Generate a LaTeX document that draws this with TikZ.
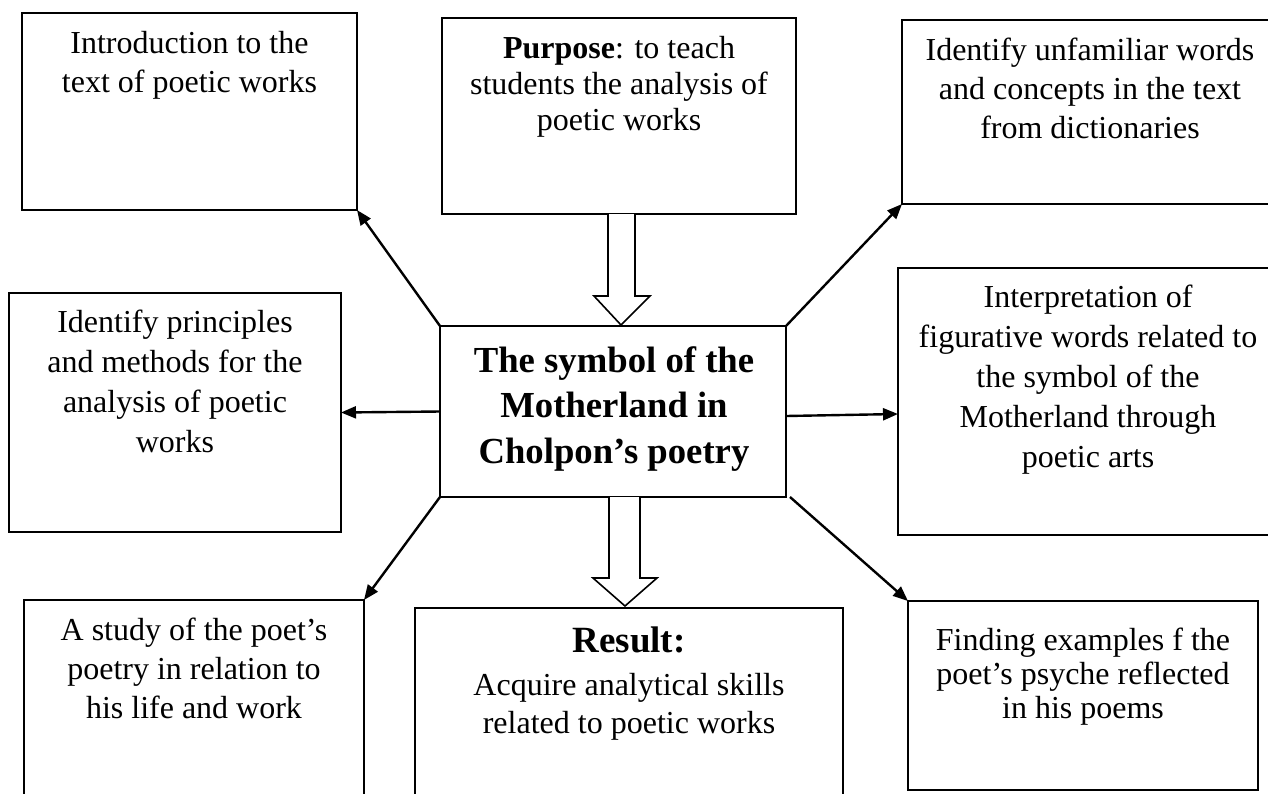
\documentclass[tikz,border=0pt]{standalone}
\usepackage{fontspec}
\setmainfont{Liberation Serif}
\usetikzlibrary{arrows.meta,calc}
\tikzset{
  box/.style={draw, line width=1.6pt, anchor=north west, inner sep=0pt, outer sep=0pt},
  txt/.style={anchor=base, align=center, inner sep=0pt, font=\fontsize{32}{#1}\selectfont},
  txt/.default=38.5,
  ttl/.style={anchor=base, align=center, inner sep=0pt, font=\fontsize{36.7}{45.5}\selectfont\bfseries},
  conn/.style={line width=2.4pt, -{Triangle[length=15pt,width=12pt]}},
  hollow/.style={draw, line width=1.6pt, fill=white, line join=miter}
}
\begin{document}
\begin{tikzpicture}[x=1pt,y=-1pt]
\useasboundingbox (0,0) rectangle (1268,793);
\clip (0,0) rectangle (1268,793);
% boxes
\node[box, minimum width=335pt, minimum height=197pt] (intro) at (22,13) {};
\node[box, minimum width=354pt, minimum height=196pt] (purpose) at (442,18) {};
\node[box, minimum width=380pt, minimum height=184pt] (unfam) at (902,20) {};
\node[box, minimum width=332pt, minimum height=239pt] (princ) at (9,293) {};
\node[box, minimum width=346pt, minimum height=171pt] (center) at (440,326) {};
\node[box, minimum width=380pt, minimum height=267pt] (interp) at (898,268) {};
\node[box, minimum width=340pt, minimum height=230pt] (study) at (24,600) {};
\node[box, minimum width=428pt, minimum height=230pt] (result) at (415,608) {};
\node[box, minimum width=350pt, minimum height=189pt] (finding) at (908,601) {};
% texts (base anchor = baseline of the last line)
\node[txt] (introT) at (189.5,92) {Introduction to the\\text of poetic works};
\node[txt=36] (purposeT) at (619,130) {\textbf{Purpose}: to teach\\students the analysis of\\poetic works};
\node[txt=39] (unfamT) at (1090,138) {Identify unfamiliar words\\and concepts in the text\\from dictionaries};
\node[txt=40] (princT) at (175,452) {Identify principles\\and methods for the\\analysis of poetic\\works};
\node[ttl] (centerT) at (614,463) {The symbol of the\\Motherland in\\Cholpon’s poetry};
\node[txt=40] (interpT) at (1088,467) {Interpretation of\\figurative words related to\\the symbol of the\\Motherland through\\poetic arts};
\node[txt=39] (studyT) at (194,718) {A study of the poet’s\\poetry in relation to\\his life and work};
\node[anchor=base, inner sep=0pt, font=\fontsize{37}{44}\selectfont\bfseries] (resultH) at (629,652) {Result:};
\node[txt=38] (resultT) at (629,733) {Acquire analytical skills\\related to poetic works};
\node[txt=34] (findingT) at (1083,718) {Finding examples f the\\poet’s psyche reflected\\in his poems};
% connectors
\draw[conn] (center.north west) -- (intro.south east);
\draw[conn] (center.north east) -- (unfam.south west);
\draw[conn] (center.west) -- (princ.east);
\draw[conn] ($(center.east)+(0,4.5)$) -- ($(interp.west)+(0,12.5)$);
\draw[conn] (center.south west) -- (study.north east);
\draw[conn] ($(center.south east)+(4,0)$) -- (finding.north west);
% hollow arrows
\draw[hollow] ($(purpose.south)+(-11,0)$) -- ($(purpose.south)+(-11,82)$)
  -- ($(purpose.south)+(-25,82)$) -- ($(center.north)+(8,-1)$)
  -- ($(purpose.south)+(31,82)$) -- ($(purpose.south)+(16,82)$)
  -- ($(purpose.south)+(16,0)$);
\draw[hollow] ($(center.south)+(-4,0)$) -- ($(center.south)+(-4,81)$)
  -- ($(center.south)+(-20,81)$) -- ($(result.north)+(-4,-2)$)
  -- ($(center.south)+(44,81)$) -- ($(center.south)+(27,81)$)
  -- ($(center.south)+(27,0)$);
\end{tikzpicture}
\end{document}
